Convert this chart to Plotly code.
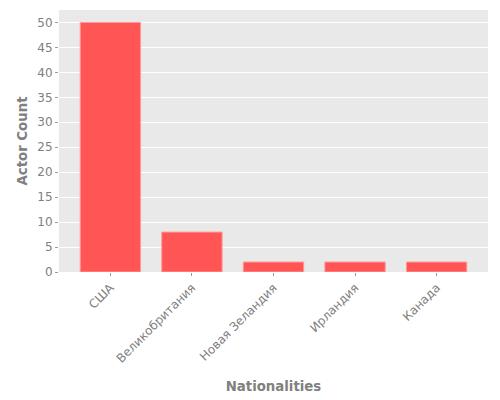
import plotly.graph_objects as go

# Данные
countries = ['США', 'Великобритания', 'Новая Зеландия', 'Ирландия', 'Канада']
actor_counts = [50, 8, 2, 2, 2]
y_ticks = [0, 5, 10, 15, 20, 25, 30, 35, 40, 45, 50]

fig = go.Figure(go.Bar(
    x=countries,
    y=actor_counts,
    width=0.74,
    marker=dict(color='#ff5555', line=dict(color='#ff9a9a', width=1)),
))

# поля подобраны с учётом отступа страницы в 8px
fig.update_layout(
    width=500, height=400,
    margin=dict(l=51, r=20, t=2, b=136),
    paper_bgcolor='white',
    plot_bgcolor='#e9e9e9',
    font=dict(family='DejaVu Sans', color='#808080', size=12),
    showlegend=False,
)
fig.update_xaxes(
    range=[-0.63, 4.63],
    tickangle=-45,
    ticks='outside', ticklen=3, tickcolor='#999999',
    showgrid=False,
    automargin=False,
    title=dict(text='<b>Nationalities</b>', font=dict(size=13.3, color='#808080'), standoff=17),
)
fig.update_yaxes(
    range=[0, 52.5],
    tickvals=y_ticks,
    ticks='outside', ticklen=3, tickcolor='#999999',
    gridcolor='white', gridwidth=1,
    zeroline=False,
    automargin=False,
    title=dict(text='<b>Actor Count</b>', font=dict(size=13.3, color='#808080'), standoff=6),
)

fig.write_html('out.html')
